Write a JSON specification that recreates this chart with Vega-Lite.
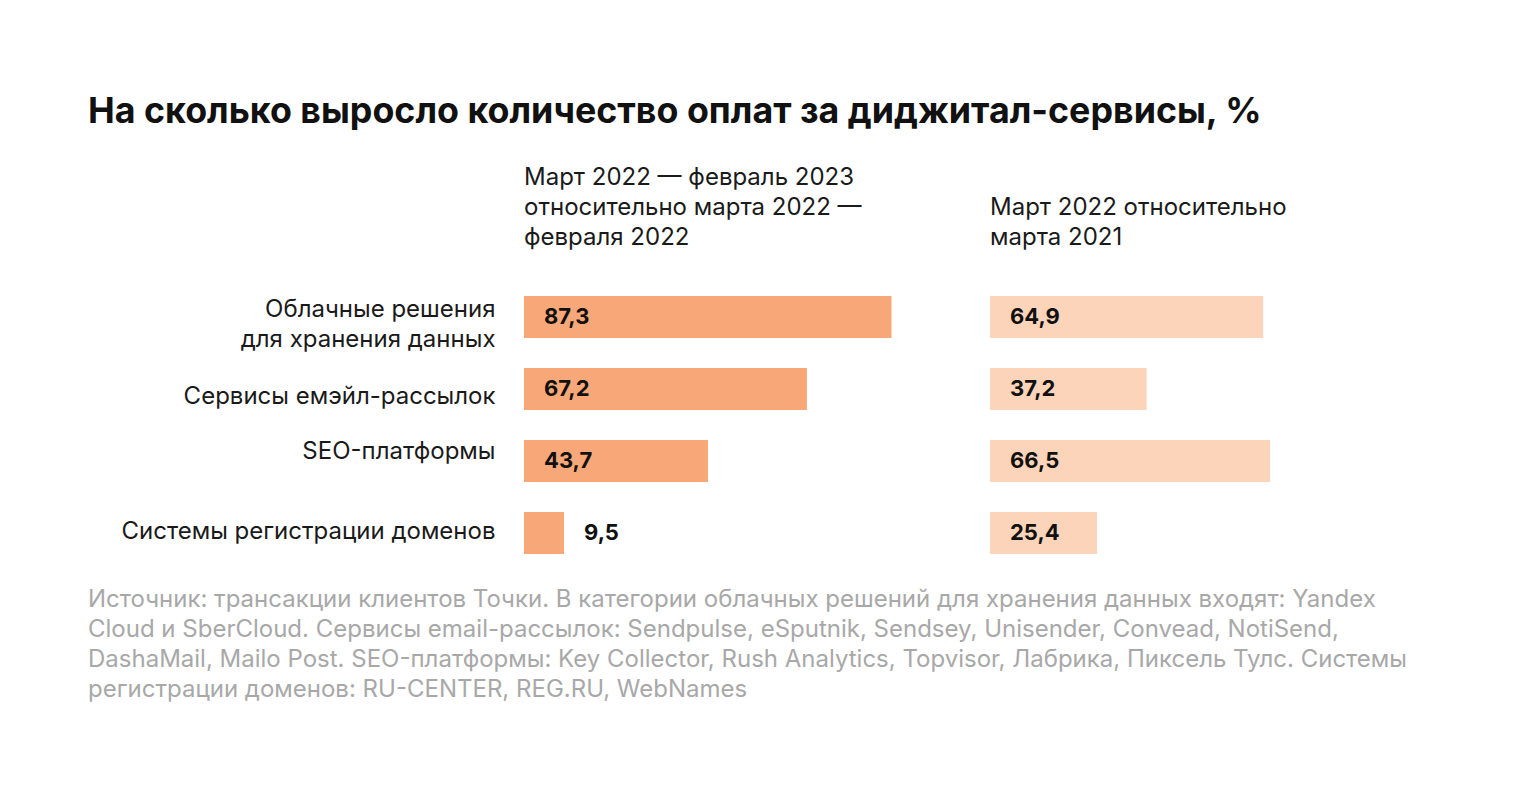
{
  "$schema": "https://vega.github.io/schema/vega-lite/v6.json",
  "background": "white",
  "padding": {"left": 88, "top": 94, "right": 0, "bottom": 0},
  "title": {
    "text": "На сколько выросло количество оплат за диджитал-сервисы, %",
    "anchor": "start",
    "frame": "group",
    "dx": -436,
    "fontSize": 35.8,
    "fontWeight": "bold",
    "font": "Inter",
    "color": "#111111",
    "baseline": "top",
    "offset": 35
  },
  "datasets": {
    "payments": [
      {"category": "Облачные решения для хранения данных", "period": "2023", "value": 87.3},
      {"category": "Сервисы емэйл-рассылок", "period": "2023", "value": 67.2},
      {"category": "SEO-платформы", "period": "2023", "value": 43.7},
      {"category": "Системы регистрации доменов", "period": "2023", "value": 9.5},
      {"category": "Облачные решения для хранения данных", "period": "2022", "value": 64.9},
      {"category": "Сервисы емэйл-рассылок", "period": "2022", "value": 37.2},
      {"category": "SEO-платформы", "period": "2022", "value": 66.5},
      {"category": "Системы регистрации доменов", "period": "2022", "value": 25.4}
    ]
  },
  "vconcat": [
    {
      "title": {
        "text": [
          "Источник: трансакции клиентов Точки. В категории облачных решений для хранения данных входят: Yandex",
          "Cloud и SberCloud. Сервисы email-рассылок: Sendpulse, eSputnik, Sendsey, Unisender, Convead, NotiSend,",
          "DashaMail, Mailo Post. SEO-платформы: Key Collector, Rush Analytics, Topvisor, Лабрика, Пиксель Тулс. Системы",
          "регистрации доменов: RU-CENTER, REG.RU, WebNames"
        ],
        "orient": "bottom",
        "anchor": "start",
        "frame": "group",
        "dx": -436,
        "font": "Inter",
        "fontSize": 24,
        "fontWeight": "normal",
        "lineHeight": 30,
        "color": "#a8a8a8",
        "baseline": "top",
        "offset": 34
      },
      "spacing": 45,
      "hconcat": [
        {
          "width": 421,
          "height": 258,
          "title": {
            "text": ["Март 2022 — февраль 2023", "относительно марта 2022 —", "февраля 2022"],
            "anchor": "start",
            "frame": "group",
            "font": "Inter",
            "fontSize": 24,
            "fontWeight": "normal",
            "lineHeight": 30,
            "color": "#1a1a1a",
            "offset": 46
          },
          "data": {"name": "payments"},
          "transform": [{"filter": "datum.period === '2023'"}],
          "encoding": {
            "y": {
              "field": "category",
              "type": "nominal",
              "sort": ["Облачные решения для хранения данных", "Сервисы емэйл-рассылок", "SEO-платформы", "Системы регистрации доменов"],
              "scale": {"paddingInner": 0.4167, "paddingOuter": 0},
              "axis": {
                "title": null,
                "labelFont": "Inter",
                "labelFontSize": 24,
                "labelColor": "#1a1a1a",
                "labelPadding": 29,
                "labelLineHeight": 30,
                "labelLimit": 600,
                "minExtent": 436,
                "maxExtent": 436,
                "labelOffset": {
                  "condition": [
                    {"test": "datum.value === 'Облачные решения для хранения данных'", "value": -7},
                    {"test": "datum.value === 'Сервисы емэйл-рассылок'", "value": 8},
                    {"test": "datum.value === 'SEO-платформы'", "value": -9}
                  ],
                  "value": -1
                },
                "labelExpr": "datum.label === 'Облачные решения для хранения данных' ? ['Облачные решения', 'для хранения данных'] : datum.label"
              }
            }
          },
          "layer": [
            {
              "mark": {"type": "bar", "color": "#F8A878"},
              "encoding": {
                "x": {"field": "value", "type": "quantitative", "scale": {"domain": [0, 100]}, "axis": null}
              }
            },
            {
              "transform": [{"filter": "datum.value >= 20"}],
              "mark": {"type": "text", "align": "left", "dx": 20, "font": "Inter", "fontSize": 22, "fontWeight": "bold", "color": "#111111"},
              "encoding": {
                "x": {"datum": 0, "type": "quantitative"},
                "text": {"field": "value", "type": "quantitative", "format": ".1f"}
              }
            },
            {
              "transform": [{"filter": "datum.value < 20"}],
              "mark": {"type": "text", "align": "left", "dx": 20, "font": "Inter", "fontSize": 22, "fontWeight": "bold", "color": "#111111"},
              "encoding": {
                "x": {"field": "value", "type": "quantitative"},
                "text": {"field": "value", "type": "quantitative", "format": ".1f"}
              }
            }
          ]
        },
        {
          "width": 421,
          "height": 258,
          "title": {
            "text": ["Март 2022 относительно", "марта 2021"],
            "anchor": "start",
            "frame": "group",
            "font": "Inter",
            "fontSize": 24,
            "fontWeight": "normal",
            "lineHeight": 30,
            "color": "#1a1a1a",
            "offset": 46
          },
          "data": {"name": "payments"},
          "transform": [{"filter": "datum.period === '2022'"}],
          "encoding": {
            "y": {
              "field": "category",
              "type": "nominal",
              "sort": ["Облачные решения для хранения данных", "Сервисы емэйл-рассылок", "SEO-платформы", "Системы регистрации доменов"],
              "scale": {"paddingInner": 0.4167, "paddingOuter": 0},
              "axis": null
            }
          },
          "layer": [
            {
              "mark": {"type": "bar", "color": "#FCD4BA"},
              "encoding": {
                "x": {"field": "value", "type": "quantitative", "scale": {"domain": [0, 100]}, "axis": null}
              }
            },
            {
              "transform": [{"filter": "datum.value >= 20"}],
              "mark": {"type": "text", "align": "left", "dx": 20, "font": "Inter", "fontSize": 22, "fontWeight": "bold", "color": "#111111"},
              "encoding": {
                "x": {"datum": 0, "type": "quantitative"},
                "text": {"field": "value", "type": "quantitative", "format": ".1f"}
              }
            },
            {
              "transform": [{"filter": "datum.value < 20"}],
              "mark": {"type": "text", "align": "left", "dx": 20, "font": "Inter", "fontSize": 22, "fontWeight": "bold", "color": "#111111"},
              "encoding": {
                "x": {"field": "value", "type": "quantitative"},
                "text": {"field": "value", "type": "quantitative", "format": ".1f"}
              }
            }
          ]
        }
      ]
    }
  ],
  "config": {
    "locale": {
      "number": {"decimal": ",", "thousands": " ", "grouping": [3], "currency": ["", " ₽"]}
    },
    "view": {"stroke": null},
    "axis": {"domain": false, "ticks": false, "grid": false}
  }
}
